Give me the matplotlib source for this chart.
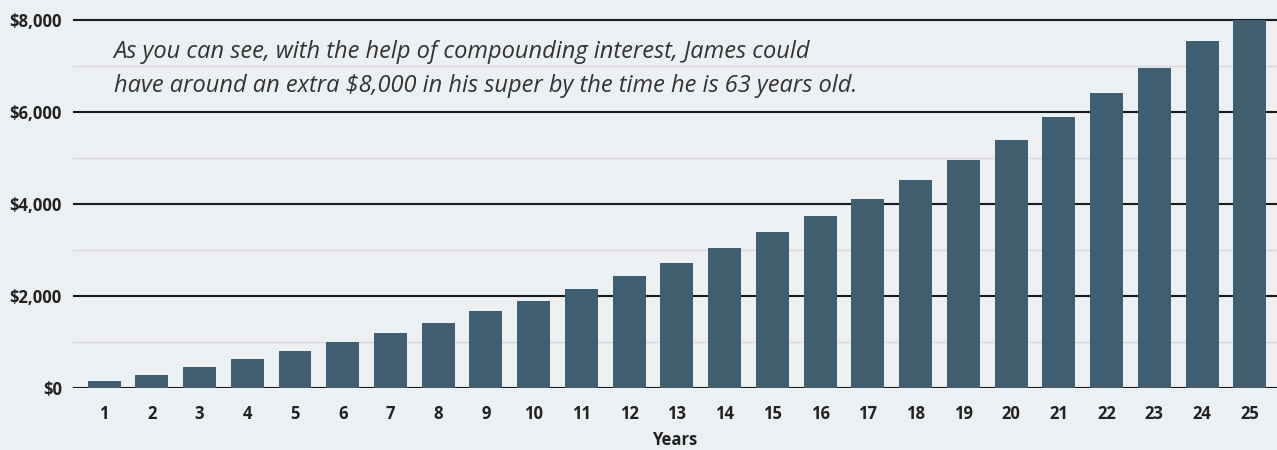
import matplotlib.pyplot as plt
import numpy as np

years = list(range(1, 26))
values = [150, 283, 457, 630, 804, 1000, 1196, 1413, 1674, 1891,
          2152, 2435, 2717, 3043, 3391, 3739, 4109, 4522, 4957, 5391,
          5891, 6413, 6957, 7543, 8000]
major_ticks = [0, 2000, 4000, 6000, 8000]
major_labels = ['$0', '$2,000', '$4,000', '$6,000', '$8,000']
note = ("As you can see, with the help of compounding interest, James could\n"
        "have around an extra $8,000 in his super by the time he is 63 years old.")

bg = '#edf0f3'
bar_color = '#3f5e6f'

fig = plt.figure(figsize=(12.77, 4.5), dpi=100, facecolor=bg)
ax = fig.add_axes([73/1277, 62/450, 1 - 73/1277, (388 - 15.4)/450])
ax.set_facecolor(bg)

ax.bar(years, values, width=0.69, color=bar_color, zorder=3)

ax.set_xlim(0.35, 25.57)
ax.set_ylim(0, 8100)
ax.set_yticks(major_ticks)
ax.set_yticklabels(major_labels)
ax.set_yticks([1000, 3000, 5000, 7000], minor=True)
ax.set_xticks(years)

ax.grid(axis='y', which='major', color='#1a1a1a', linewidth=1.5, zorder=1)
ax.grid(axis='y', which='minor', color='#ddd5dd', linewidth=1.0, zorder=1)

for s in ax.spines.values():
    s.set_visible(False)
ax.tick_params(axis='both', which='both', length=0)
ax.tick_params(axis='y', pad=8)
ax.tick_params(axis='x', pad=12)
for lab in ax.get_yticklabels() + ax.get_xticklabels():
    lab.set_fontfamily('Open Sans')
    lab.set_fontweight('bold')
    lab.set_fontsize(12)
    lab.set_color('#222222')

ax.set_xlabel('Years', fontfamily='Open Sans', fontweight='bold', fontsize=12,
              color='#222222', labelpad=6)

ax.text(1.2, 7560, note, fontfamily='Open Sans', fontstyle='italic', fontsize=17,
        color='#333333', va='top', ha='left', linespacing=1.55, zorder=4)

fig.savefig('out.png', dpi=100, facecolor=bg)
